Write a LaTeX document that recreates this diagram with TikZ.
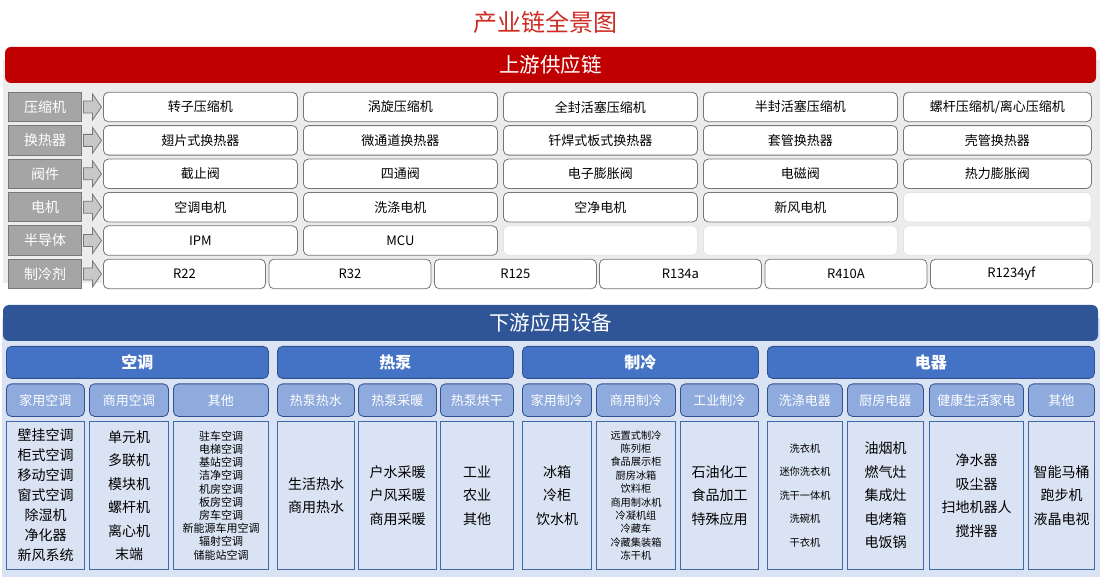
\documentclass[tikz,border=0pt]{standalone}
\usepackage{fontspec}
\setmainfont{Noto Sans CJK SC}
\usetikzlibrary{calc}
\definecolor{titlered}{RGB}{205,45,35}
\definecolor{bannerred}{RGB}{192,0,0}
\definecolor{upbg}{RGB}{236,236,236}
\definecolor{labelgray}{RGB}{165,165,165}
\definecolor{labelborder}{RGB}{120,120,120}
\definecolor{itemborder}{RGB}{118,118,118}
\definecolor{emptyborder}{RGB}{228,228,228}
\definecolor{arrowfill}{RGB}{200,200,200}
\definecolor{bannerblue}{RGB}{47,85,151}
\definecolor{downbg}{RGB}{218,227,243}
\definecolor{catblue}{RGB}{68,114,196}
\definecolor{subblue}{RGB}{143,170,220}
\definecolor{darkblue}{RGB}{47,82,143}
\definecolor{contentborder}{RGB}{65,105,165}
\tikzset{
  banner/.style={rounded corners=6pt, inner sep=0pt, text=white, font=\fontsize{20.5}{24}\selectfont},
  rowlabel/.style={draw=labelborder, fill=labelgray, line width=1pt, minimum width=73pt, minimum height=29.5pt, inner sep=0pt, text=white, font=\fontsize{14}{16}\selectfont, anchor=west},
  itembox/.style={draw=itemborder, fill=white, rounded corners=5pt, line width=0.8pt, minimum height=29.5pt, inner sep=0pt, font=\fontsize{13}{15}\selectfont, anchor=west},
  emptybox/.style={draw=emptyborder, fill=white, rounded corners=5pt, line width=0.8pt, minimum height=29.5pt, inner sep=0pt, anchor=west},
  arrowshape/.style={draw=labelborder, fill=arrowfill, line width=0.8pt},
  catbar/.style={draw=darkblue, fill=catblue, rounded corners=5pt, line width=0.8pt, minimum height=32pt, inner sep=0pt, text=white, font=\fontsize{16}{18}\selectfont\bfseries, anchor=north west},
  subbox/.style={draw=darkblue, fill=subblue, rounded corners=5pt, line width=0.8pt, minimum height=32.5pt, inner sep=0pt, text=white, font=\fontsize{13}{15}\selectfont, anchor=north west},
  content/.style={draw=contentborder, fill=downbg, line width=1pt, minimum height=148pt, inner sep=0pt, align=center, anchor=north west},
  bigA/.style={font=\fontsize{14}{20}\selectfont},
  bigB/.style={font=\fontsize{14}{23.5}\selectfont},
  smallA/.style={font=\fontsize{11}{13.2}\selectfont},
  smallB/.style={font=\fontsize{10.2}{13.4}\selectfont},
  smallC/.style={font=\fontsize{10.2}{23.5}\selectfont}
}
\begin{document}
\begin{tikzpicture}[x=1pt,y=-1pt]
\useasboundingbox (0,0) rectangle (1101,577);
% ---------- title ----------
\node[font=\fontsize{24}{28}\selectfont, text=titlered] (title) at (545,22) {产业链全景图};
% ---------- upstream ----------
\fill[upbg] (3,60) rectangle (1100,283);
\node[banner, fill=bannerred, minimum width=1091pt, minimum height=36pt] (up) at (550.5,65) {上游供应链};

\node[rowlabel] (L1) at (8,107) {压缩机};
\node[rowlabel] (L2) at (8,140.4) {换热器};
\node[rowlabel] (L3) at (8,173.8) {阀件};
\node[rowlabel] (L4) at (8,207.2) {电机};
\node[rowlabel] (L5) at (8,240.6) {半导体};
\node[rowlabel] (L6) at (8,274) {制冷剂};
\foreach \l in {L1,L2,L3,L4,L5,L6}{
  \draw[arrowshape] ($(\l.east)+(1.5,-6)$) -- ++(9,0) -- ++(0,-7) -- ++(9,13) -- ++(-9,13) -- ++(0,-7) -- ++(-9,0) -- cycle;
}
% row 1
\node[itembox, minimum width=194pt] (a1) at (103,107) {转子压缩机};
\node[itembox, minimum width=194pt] (a2) at (303,107) {涡旋压缩机};
\node[itembox, minimum width=194pt] (a3) at (503,107) {全封活塞压缩机};
\node[itembox, minimum width=194pt] (a4) at (703,107) {半封活塞压缩机};
\node[itembox, minimum width=188pt] (a5) at (903,107) {螺杆压缩机/离心压缩机};
% row 2
\node[itembox, minimum width=194pt] (b1) at (103,140.4) {翅片式换热器};
\node[itembox, minimum width=194pt] (b2) at (303,140.4) {微通道换热器};
\node[itembox, minimum width=194pt] (b3) at (503,140.4) {钎焊式板式换热器};
\node[itembox, minimum width=194pt] (b4) at (703,140.4) {套管换热器};
\node[itembox, minimum width=188pt] (b5) at (903,140.4) {壳管换热器};
% row 3
\node[itembox, minimum width=194pt] (c1) at (103,173.8) {截止阀};
\node[itembox, minimum width=194pt] (c2) at (303,173.8) {四通阀};
\node[itembox, minimum width=194pt] (c3) at (503,173.8) {电子膨胀阀};
\node[itembox, minimum width=194pt] (c4) at (703,173.8) {电磁阀};
\node[itembox, minimum width=188pt] (c5) at (903,173.8) {热力膨胀阀};
% row 4
\node[itembox, minimum width=194pt] (d1) at (103,207.2) {空调电机};
\node[itembox, minimum width=194pt] (d2) at (303,207.2) {洗涤电机};
\node[itembox, minimum width=194pt] (d3) at (503,207.2) {空净电机};
\node[itembox, minimum width=194pt] (d4) at (703,207.2) {新风电机};
\node[emptybox, minimum width=188pt] (d5) at (903,207.2) {};
% row 5
\node[itembox, minimum width=194pt] (e1) at (103,240.6) {IPM};
\node[itembox, minimum width=194pt] (e2) at (303,240.6) {MCU};
\node[emptybox, minimum width=194pt] (e3) at (503,240.6) {};
\node[emptybox, minimum width=194pt] (e4) at (703,240.6) {};
\node[emptybox, minimum width=188pt] (e5) at (903,240.6) {};
% row 6
\node[itembox, minimum width=162pt] (f1) at (103,274) {R22};
\node[itembox, minimum width=162pt] (f2) at (268.5,274) {R32};
\node[itembox, minimum width=162pt] (f3) at (434,274) {R125};
\node[itembox, minimum width=162pt] (f4) at (599,274) {R134a};
\node[itembox, minimum width=162pt] (f5) at (764.5,274) {R410A};
\node[itembox, minimum width=162pt] (f6) at (930,274) {R1234yf};
% ---------- downstream ----------
\fill[downbg] (2,318) rectangle (1100,577);
\node[banner, fill=bannerblue, minimum width=1095pt, minimum height=36pt] (down) at (550.5,323) {下游应用设备};

\node[catbar, minimum width=262pt] (kt) at (6,346) {空调};
\node[catbar, minimum width=236pt] (rb) at (277,346) {热泵};
\node[catbar, minimum width=236pt] (zl) at (522,346) {制冷};
\node[catbar, minimum width=327pt] (dq) at (767,346) {电器};

\node[subbox, minimum width=78pt] (s1) at (6,383.5) {家用空调};
\node[subbox, minimum width=79pt] (s2) at (89,383.5) {商用空调};
\node[subbox, minimum width=95pt] (s3) at (173,383.5) {其他};
\node[subbox, minimum width=77pt] (s4) at (277,383.5) {热泵热水};
\node[subbox, minimum width=78pt] (s5) at (358,383.5) {热泵采暖};
\node[subbox, minimum width=73pt] (s6) at (440,383.5) {热泵烘干};
\node[subbox, minimum width=69pt] (s7) at (522,383.5) {家用制冷};
\node[subbox, minimum width=79pt] (s8) at (596,383.5) {商用制冷};
\node[subbox, minimum width=78pt] (s9) at (680,383.5) {工业制冷};
\node[subbox, minimum width=75pt] (s10) at (767,383.5) {洗涤电器};
\node[subbox, minimum width=76pt] (s11) at (847,383.5) {厨房电器};
\node[subbox, minimum width=94pt] (s12) at (929,383.5) {健康生活家电};
\node[subbox, minimum width=66pt] (s13) at (1028,383.5) {其他};

\node[content, bigA, minimum width=78pt] (t1) at (6,421) {壁挂空调\\柜式空调\\移动空调\\窗式空调\\除湿机\\净化器\\新风系统};
\node[content, bigB, minimum width=79pt] (t2) at (89,421) {单元机\\多联机\\模块机\\螺杆机\\离心机\\末端};
\node[content, smallA, minimum width=95pt] (t3) at (173,421) {驻车空调\\电梯空调\\基站空调\\洁净空调\\机房空调\\板房空调\\房车空调\\新能源车用空调\\辐射空调\\储能站空调};
\node[content, bigB, minimum width=77pt] (t4) at (277,421) {生活热水\\商用热水};
\node[content, bigB, minimum width=78pt] (t5) at (358,421) {户水采暖\\户风采暖\\商用采暖};
\node[content, bigB, minimum width=73pt] (t6) at (440,421) {工业\\农业\\其他};
\node[content, bigB, minimum width=69pt] (t7) at (522,421) {冰箱\\冷柜\\饮水机};
\node[content, smallB, minimum width=79pt] (t8) at (596,421) {远置式制冷\\陈列柜\\食品展示柜\\厨房冰箱\\饮料柜\\商用制冰机\\冷凝机组\\冷藏车\\冷藏集装箱\\冻干机};
\node[content, bigB, minimum width=78pt] (t9) at (680,421) {石油化工\\食品加工\\特殊应用};
\node[content, smallC, minimum width=75pt] (t10) at (767,421) {洗衣机\\迷你洗衣机\\洗干一体机\\洗碗机\\干衣机};
\node[content, bigB, minimum width=76pt] (t11) at (847,421) {油烟机\\燃气灶\\集成灶\\电烤箱\\电饭锅};
\node[content, bigB, minimum width=94pt] (t12) at (929,421) {净水器\\吸尘器\\扫地机器人\\搅拌器};
\node[content, bigB, minimum width=66pt] (t13) at (1028,421) {智能马桶\\跑步机\\液晶电视};
\end{tikzpicture}
\end{document}
